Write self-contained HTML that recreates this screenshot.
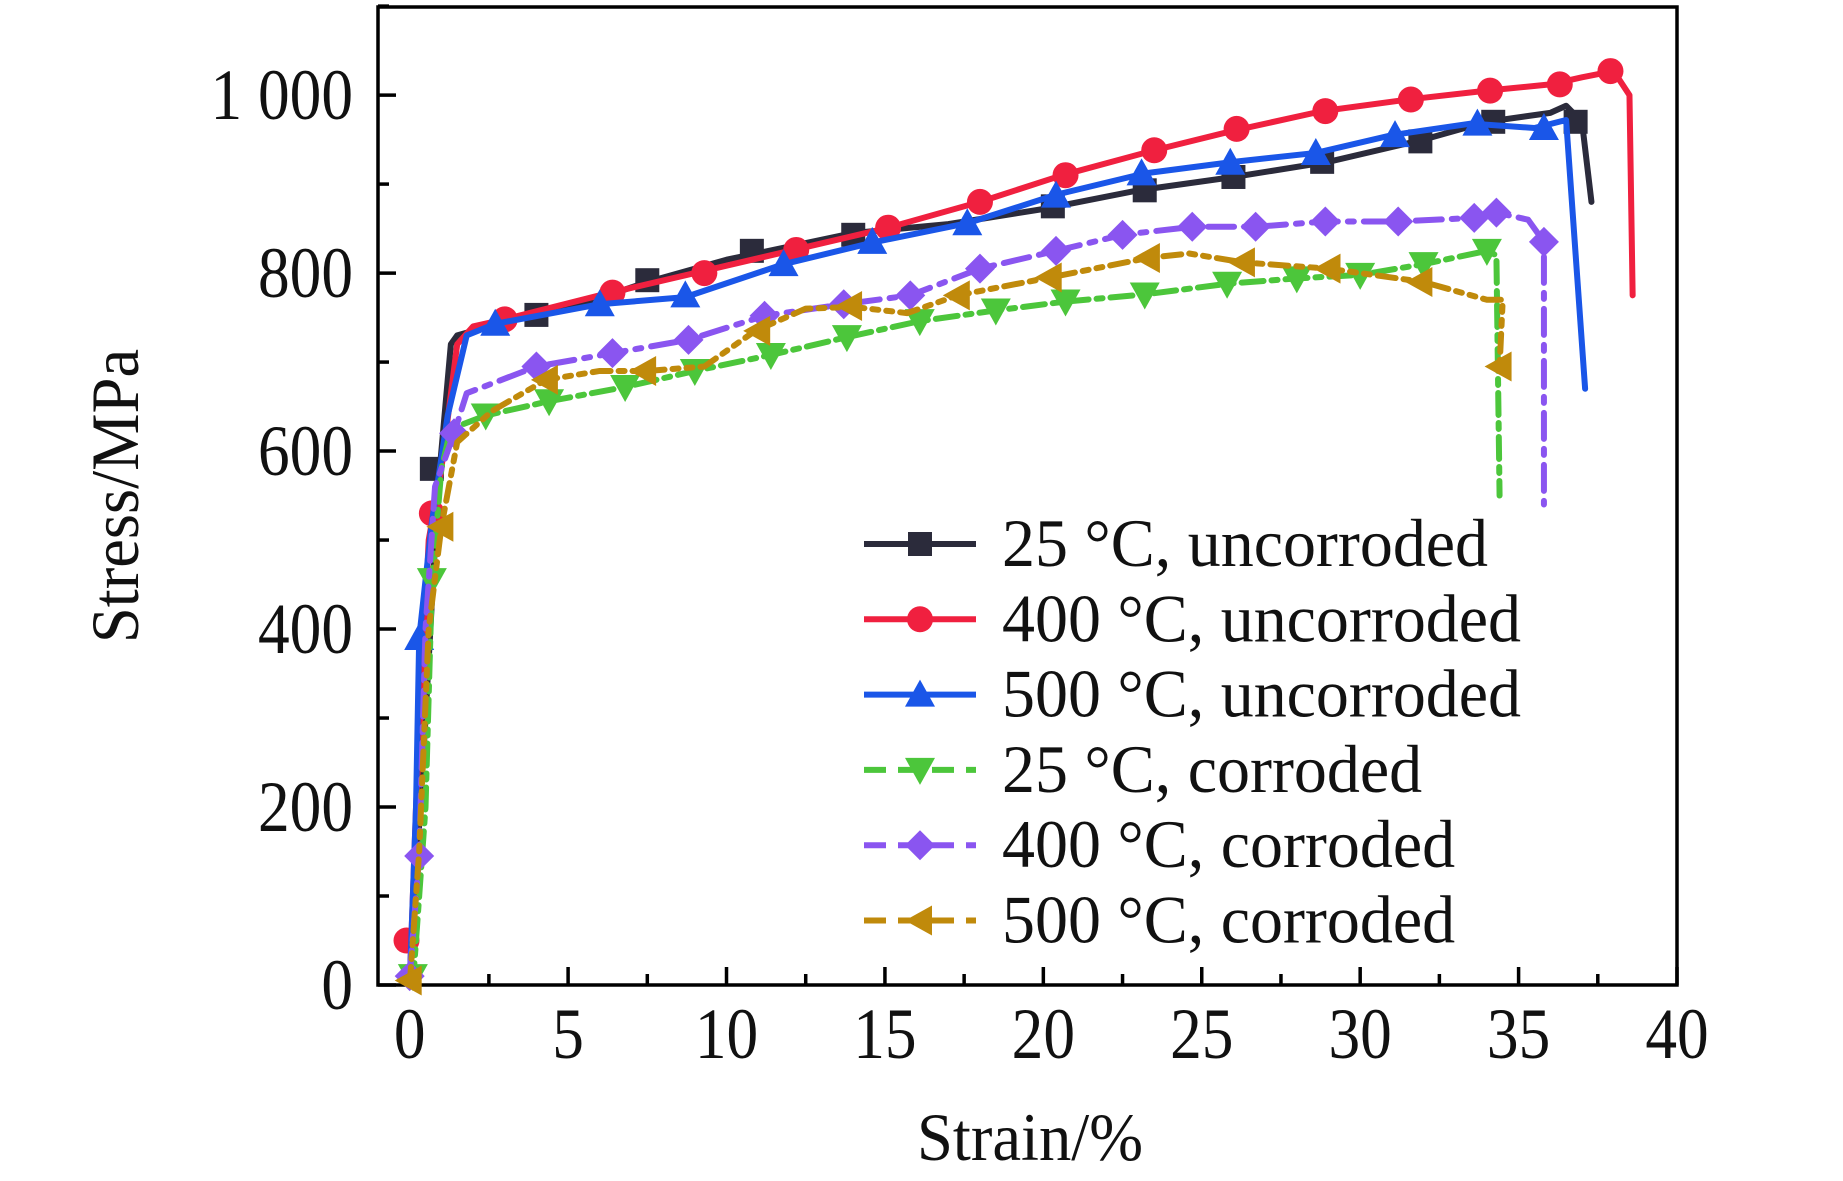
<!DOCTYPE html>
<html><head><meta charset="utf-8"><style>
html,body{margin:0;padding:0;background:#fff;width:1843px;height:1181px;overflow:hidden}
svg{display:block}
text{font-family:"Liberation Serif",serif;fill:#111}
</style></head><body>
<svg id="chart" width="1843" height="1181" viewBox="0 0 1843 1181" xmlns="http://www.w3.org/2000/svg">
<g id="plot"></g>
</svg>
<script>
const xTicks=[0,5,10,15,20,25,30,35,40];
const yTicks=[0,200,400,600,800,1000];
const yTickLabels=["0","200","400","600","800","1 000"];
const seriesNames=["25 °C, uncorroded","400 °C, uncorroded","500 °C, uncorroded","25 °C, corroded","400 °C, corroded","500 °C, corroded"];
const s1Line=[[0,0],[0.5,300],[0.9,560],[1.3,720],[1.5,730],[3,745],[5,760],[7.5,790],[10,815],[14,845],[17,855],[20,872],[23,893],[26,908],[29,925],[32,950],[34,970],[36,980],[36.5,988],[37,970],[37.3,880]];
const s1Marks=[[0.7,580],[4,753],[7.5,792],[10.8,825],[14,843],[20.3,875],[23.2,893],[26,908],[28.8,925],[31.9,948],[34.2,970],[36.8,970]];
const s2Line=[[0,0],[0.2,200],[0.6,500],[1.0,580],[1.5,720],[2,740],[3,748],[6,775],[9,800],[12,825],[15,850],[18,880],[20.6,910],[23.5,938],[26,960],[28.8,982],[31.5,995],[34,1005],[36,1012],[37,1020],[38,1027],[38.5,1000],[38.6,775]];
const s2Marks=[[-0.1,50],[0.7,530],[3,748],[6.4,778],[9.3,800],[12.2,826],[15.1,851],[18,880],[20.7,910],[23.5,938],[26.1,962],[28.9,982],[31.6,995],[34.1,1005],[36.3,1012],[37.9,1027]];
const s3Line=[[0,0],[0.2,200],[0.3,390],[0.7,520],[1.2,640],[1.8,730],[2.7,743],[6,765],[8.7,773],[11.8,810],[14.7,835],[17.6,856],[20.4,888],[23.2,912],[26,925],[28.6,935],[31,955],[33.5,968],[35.5,963],[36.5,972],[37.1,670]];
const s3Marks=[[0.3,390],[2.7,743],[6,765],[8.7,775],[11.8,810],[14.6,835],[17.6,856],[20.4,887],[23.1,912],[25.9,924],[28.6,935],[31.1,955],[33.7,968],[35.8,963]];
const s4Line=[[0.1,0],[0.5,200],[0.7,450],[1.0,580],[1.3,625],[2.4,640],[4.4,656],[6.8,672],[9,690],[11.4,708],[13.8,728],[16.1,746],[18.5,758],[20.7,768],[23.2,776],[25.8,788],[28,794],[30,798],[32,810],[34,825],[34.3,820],[34.4,550]];
const s4Marks=[[0.1,10],[0.7,455],[2.4,640],[4.4,656],[6.8,672],[9,690],[11.4,708],[13.8,728],[16.1,746],[18.5,758],[20.7,768],[23.2,776],[25.8,788],[28,794],[30,798],[32,810],[34,825]];
const s5Line=[[0,10],[0.3,145],[0.5,400],[0.8,560],[1.4,620],[1.8,665],[4,695],[6.4,710],[8.8,725],[11.2,752],[13.7,765],[15.8,775],[18,805],[20.4,825],[22.5,843],[24.7,852],[26.7,852],[28.9,858],[31.2,858],[33.6,862],[34.3,868],[35.3,860],[35.8,835],[35.8,540]];
const s5Marks=[[0,10],[0.3,145],[1.4,620],[4,695],[6.4,710],[8.8,725],[11.2,752],[13.7,765],[15.8,775],[18,805],[20.4,825],[22.5,843],[24.7,852],[26.7,852],[28.9,858],[31.2,858],[33.6,862],[34.3,868],[35.8,835]];
const s6Line=[[0,0],[0.3,150],[0.6,400],[1.0,515],[1.5,610],[2.6,645],[4.3,680],[6,690],[7.5,690],[9.3,695],[10.9,735],[12.5,760],[14,762],[15.7,755],[17.3,775],[20.2,795],[23.3,817],[24.6,822],[26.3,812],[29,805],[32,790],[34,770],[34.5,770],[34.4,695]];
const s6Marks=[[0,5],[1.0,515],[4.3,680],[7.4,690],[11,735],[13.9,763],[17.3,775],[20.2,795],[23.3,817],[26.3,812],[29,805],[31.9,790],[34.4,695]];

const NS="http://www.w3.org/2000/svg";
const L=378,R=1677,T=7,B=985,XMIN=-1,XMAX=40,YMAX=1099;
const sx=v=>L+(v-XMIN)/(XMAX-XMIN)*(R-L);
const sy=v=>B-v/YMAX*(B-T);
const g=document.getElementById('plot');
function mk(tag,attrs,parent){const e=document.createElementNS(NS,tag);for(const k in attrs)e.setAttribute(k,attrs[k]);(parent||g).appendChild(e);return e;}
const colors=["#2b2b3b","#f0203f","#1a56e8","#4cc63b","#8a55f0","#c08a0b"];
const dashes=["","","","22 8 6 8","26 10 6 10","18 8 6 8 6 8"];
const shapes=["square","circle","up","down","diamond","left"];
const lines=[s1Line,s2Line,s3Line,s4Line,s5Line,s6Line];
const marks=[s1Marks,s2Marks,s3Marks,s4Marks,s5Marks,s6Marks];
function marker(shape,cx,cy,color,parent){
  const r=13;let e;
  if(shape==="square")e=mk('rect',{x:cx-r+1,y:cy-r+1,width:2*r-2,height:2*r-2,fill:color},parent);
  else if(shape==="circle")e=mk('circle',{cx:cx,cy:cy,r:r,fill:color},parent);
  else{let p;
    if(shape==="up")p=[[cx,cy-r-2],[cx+r+2,cy+r-1],[cx-r-2,cy+r-1]];
    else if(shape==="down")p=[[cx,cy+r+2],[cx+r+2,cy-r+1],[cx-r-2,cy-r+1]];
    else if(shape==="diamond")p=[[cx,cy-r-2],[cx+r+2,cy],[cx,cy+r+2],[cx-r-2,cy]];
    else p=[[cx-r-2,cy],[cx+r-1,cy-r-2],[cx+r-1,cy+r+2]];
    e=mk('polygon',{points:p.map(q=>q.join(',')).join(' '),fill:color},parent);}
  return e;
}
function txt(s,x,y,size,anchor,sxF,parent){
  const t=mk('text',{x:0,y:0,'font-size':size,'text-anchor':anchor,transform:`translate(${x},${y}) scale(${sxF},1)`},parent);
  t.textContent=s;return t;
}
const frame=mk('rect',{x:L,y:T,width:R-L,height:B-T,fill:'none',stroke:'#000','stroke-width':3.5});


for(let v=0;v<=40;v+=2.5){const major=v%5===0;const t=mk('line',{x1:sx(v),x2:sx(v),y1:B,y2:B-(major?18:11),stroke:'#000','stroke-width':3.5});

}
xTicks.forEach(v=>{const t=txt(String(v),sx(v),1058,72,'middle',0.88);

});
for(let v=0;v<=1100;v+=100){const major=v%200===0;const t=mk('line',{x1:L,x2:L+(major?18:11),y1:sy(v),y2:sy(v),stroke:'#000','stroke-width':3.5});

}
yTicks.forEach((v,i)=>{const t=txt(yTickLabels[i],353,sy(v)+24,72,'end',0.88);

});
const xt=txt("Strain/%",1030,1160,68,'middle',0.95);


const yt=mk('text',{x:0,y:0,'font-size':68,'text-anchor':'middle',transform:'translate(138,496) rotate(-90) scale(0.95,1)'});yt.textContent="Stress/MPa";


lines.forEach((ln,i)=>{
  const sg=mk('g',{});
  
  
  const a={points:ln.map(p=>sx(p[0])+','+sy(p[1])).join(' '),fill:'none',stroke:colors[i],'stroke-width':6,'stroke-linejoin':'round','stroke-linecap':'round'};
  if(dashes[i])a['stroke-dasharray']=dashes[i];
  const pl=mk('polyline',a,sg);
  
  
  marks[i].forEach(p=>{const m=marker(shapes[i],sx(p[0]),sy(p[1]),colors[i],sg);
    
    });
});
const lg=mk('g',{});


seriesNames.forEach((n,i)=>{
  const y=544+i*75.3;
  const eg=mk('g',{},lg);
  
  
  const a={x1:864,x2:976,y1:y,y2:y,stroke:colors[i],'stroke-width':6};
  if(i>=3)a['stroke-dasharray']='22 12';
  mk('line',a,eg);
  marker(shapes[i],920,y,colors[i],eg);
  txt(n,1002,y+22,68,'start',0.97,eg);
});
</script>
</body></html>
